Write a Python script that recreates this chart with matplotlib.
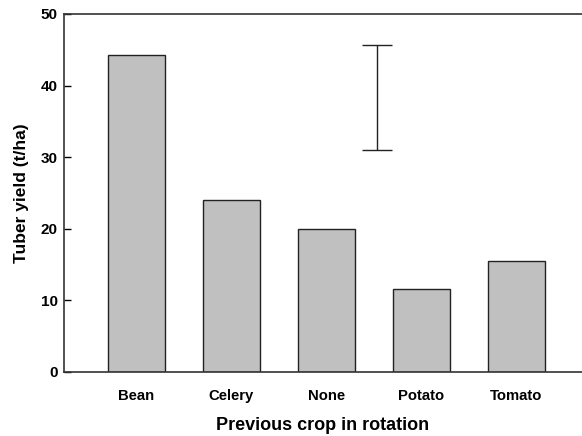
import matplotlib.pyplot as plt

crops = ['Bean', 'Celery', 'None', 'Potato', 'Tomato']
yields = [44.3, 24.0, 20.0, 11.6, 15.5]
lsd_x = 2.53
lsd_low = 31.0
lsd_high = 45.7

plt.rcParams['font.family'] = ['Liberation Sans', 'DejaVu Sans']

fig = plt.figure(figsize=(5.82, 4.36), dpi=100)
ax = fig.add_axes([0.110, 0.147, 0.89, 0.821])

positions = list(range(len(crops)))
ax.bar(positions, yields, width=0.6, color='#c0c0c0', edgecolor='#222222', linewidth=1.0)

# LSD bar
lsd_mid = (lsd_low + lsd_high) / 2
ax.errorbar([lsd_x], [lsd_mid], yerr=[[lsd_mid - lsd_low], [lsd_high - lsd_mid]],
            fmt='none', ecolor='#222222', elinewidth=1.0, capsize=11, capthick=1.0)

ax.set_xlim(-0.758, 4.69)
ax.set_ylim(0, 50)
ax.set_yticks([0, 10, 20, 30, 40, 50])
ax.set_xticks(positions)
ax.set_xticklabels(crops, fontsize=10.7, fontweight='bold')
for lbl in ax.get_yticklabels():
  lbl.set_fontsize(11)
  lbl.set_fontweight('bold')
ax.tick_params(axis='x', length=0, pad=12)
ax.tick_params(axis='y', length=5, width=1, direction='in', pad=4.5)

ax.spines['right'].set_visible(False)
for side in ['left', 'top', 'bottom']:
  ax.spines[side].set_linewidth(1.2)
  ax.spines[side].set_color('#333333')

ax.set_xlabel('Previous crop in rotation', fontsize=13, fontweight='bold', labelpad=10.5)
ax.set_ylabel('Tuber yield (t/ha)', fontsize=12.5, fontweight='bold', labelpad=8.5)

fig.savefig('out.png', dpi=100)
